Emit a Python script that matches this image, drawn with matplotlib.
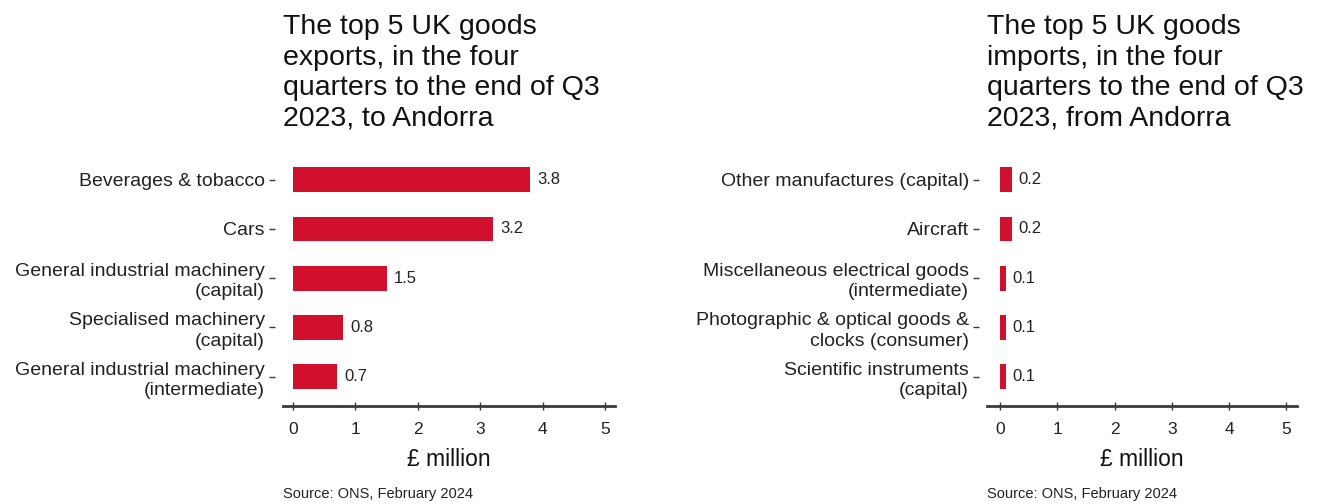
import matplotlib.pyplot as plt

plt.rcParams['font.family'] = ['Liberation Sans', 'DejaVu Sans']

export_labels = ["Beverages & tobacco", "Cars",
                 "General industrial machinery\n(capital)",
                 "Specialised machinery\n(capital)",
                 "General industrial machinery\n(intermediate)"]
export_values = [3.8, 3.2, 1.5, 0.8, 0.7]

import_labels = ["Other manufactures (capital)", "Aircraft",
                 "Miscellaneous electrical goods\n(intermediate)",
                 "Photographic & optical goods &\nclocks (consumer)",
                 "Scientific instruments\n(capital)"]
import_values = [0.2, 0.2, 0.1, 0.1, 0.1]

titles = ["The top 5 UK goods\nexports, in the four\nquarters to the end of Q3\n2023, to Andorra",
          "The top 5 UK goods\nimports, in the four\nquarters to the end of Q3\n2023, from Andorra"]
ticks = [0, 1, 2, 3, 4, 5]

bar_color = "#D0102C"
axis_color = "#3a3a3a"
text_color = "#222222"

fig = plt.figure(figsize=(13.27, 5.04), dpi=100)
ax1 = fig.add_axes([0.2133, 0.194, 0.2502, 0.508])
ax2 = fig.add_axes([0.7438, 0.194, 0.2336, 0.508])

panels = [(ax1, export_labels, export_values, (-0.16, 5.16)),
          (ax2, import_labels, import_values, (-0.23, 5.19))]

for i, (ax, labels, values, xlim) in enumerate(panels):
    # move the hidden left spine first, it resets the ticks
    for s in ["top", "right", "left"]:
        ax.spines[s].set_visible(False)
    ax.spines["left"].set_position(("outward", 6))
    ax.spines["bottom"].set_color(axis_color)
    ax.spines["bottom"].set_linewidth(2)

    pos = list(range(len(values)))
    ax.barh(pos, values, height=0.5, color=bar_color)
    for p, v in zip(pos, values):
        ax.text(v + 0.12, p, f"{v:.1f}", va="center", ha="left",
                fontsize=12, color=text_color)
    ax.set_yticks(pos)
    ax.set_yticklabels(labels, fontsize=14, color=text_color, linespacing=1.25)
    ax.set_ylim(len(values) - 0.4, -0.6)
    ax.set_xlim(*xlim)
    ax.set_xticks(ticks)
    ax.set_xticklabels([str(t) for t in ticks], fontsize=12.5, color=text_color)
    ax.tick_params(axis="x", direction="inout", length=6, width=1,
                   color=axis_color, pad=8)
    ax.tick_params(axis="y", length=4, width=1, color=axis_color, pad=3)
    ax.set_xlabel("£ million", fontsize=16.5, color="#111111", labelpad=8)
    x0 = ax.get_position().x0
    fig.text(x0, 0.972, titles[i], ha="left", va="top", fontsize=20.5,
             color="#111111", linespacing=1.22)
    fig.text(x0, 0.005, "Source: ONS, February 2024", ha="left", va="bottom",
             fontsize=10.5, color=text_color)

fig.savefig("out.png", dpi=100)
